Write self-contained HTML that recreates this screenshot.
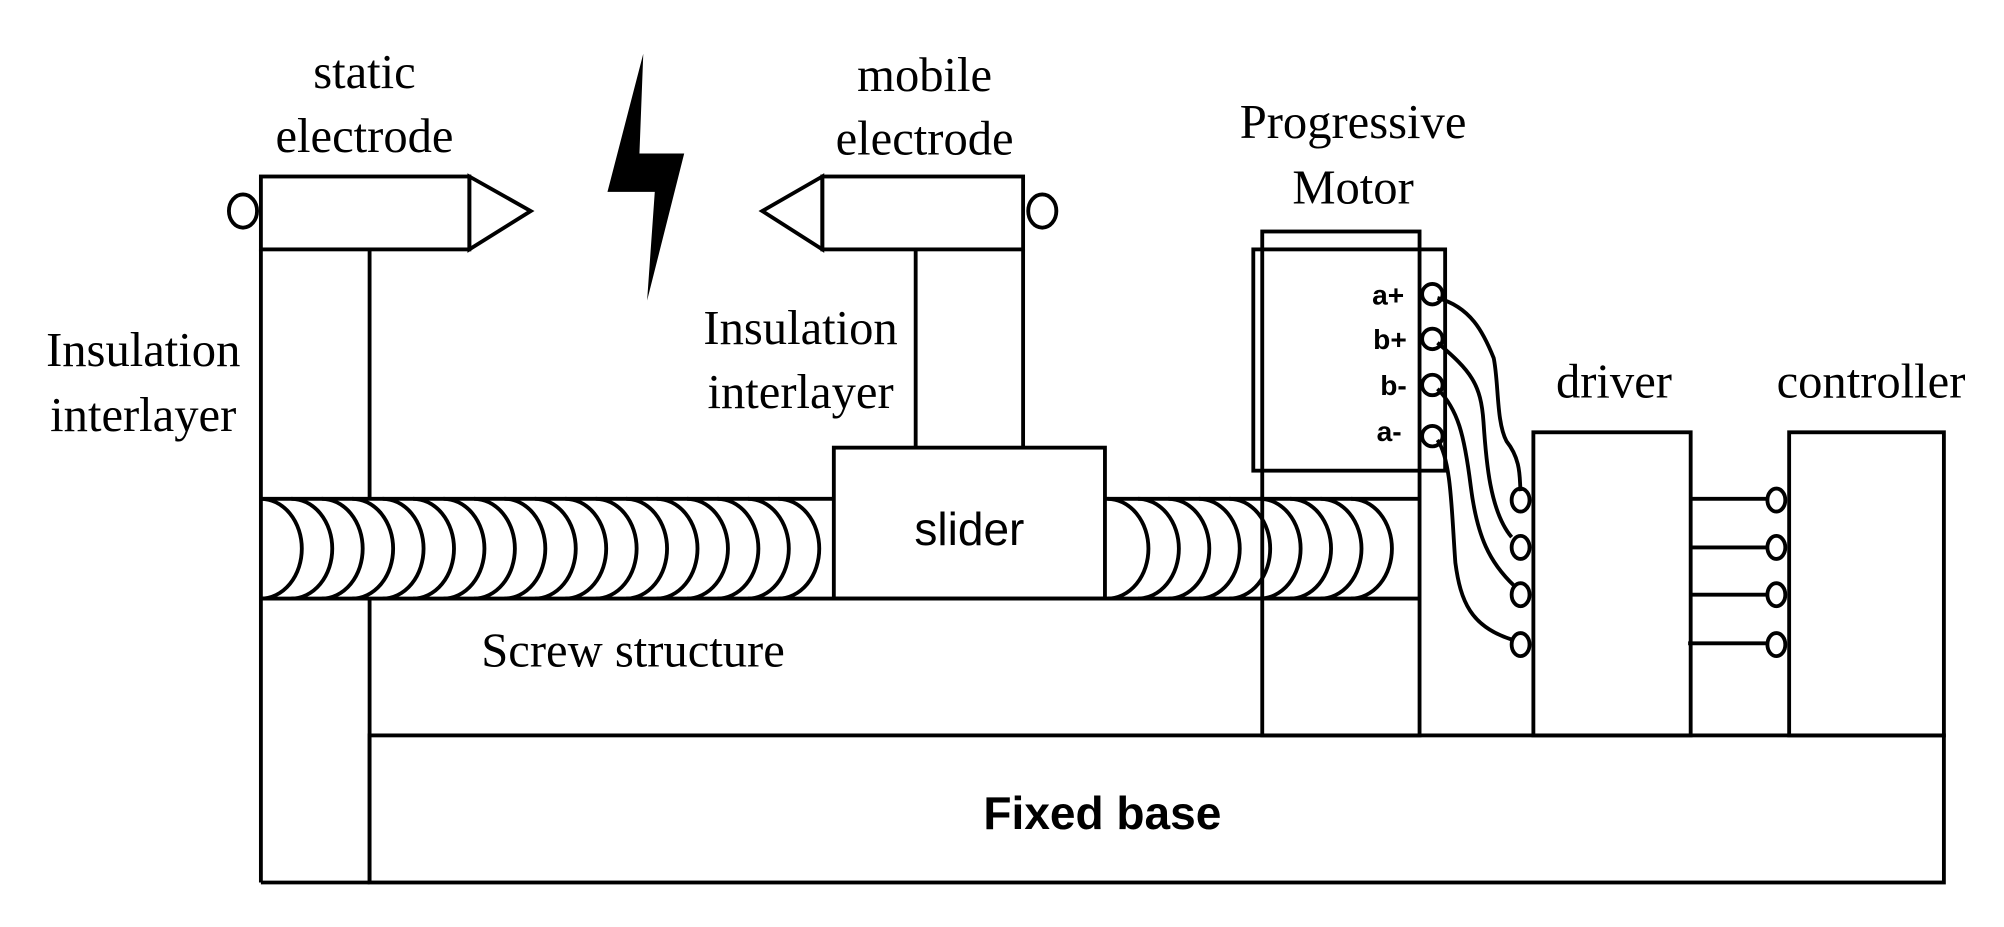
<!DOCTYPE html>
<html><head><style>html,body{margin:0;padding:0;background:#fff}svg{display:block}</style></head>
<body>
<svg width="2004" height="927" viewBox="0 0 1567 724.8" preserveAspectRatio="none" xmlns="http://www.w3.org/2000/svg">
<defs>
<clipPath id="cl"><rect x="204" y="388" width="448" height="82"/></clipPath>
<clipPath id="cr"><rect x="864" y="388" width="246" height="82"/></clipPath>
</defs>
<g fill="none" stroke="#000" stroke-width="3">
<rect x="204" y="138" width="163" height="57"/>
<polygon points="367,138 415,165 367,195"/>
<ellipse cx="190" cy="165" rx="11" ry="13"/>
<rect x="643" y="138" width="157" height="57"/>
<polygon points="643,138 596,165 643,195"/>
<ellipse cx="815" cy="165" rx="11" ry="13"/>
<line x1="204" y1="195" x2="204" y2="690"/>
<line x1="289" y1="195" x2="289" y2="390"/>
<line x1="289" y1="468" x2="289" y2="690"/>
<line x1="716" y1="195" x2="716" y2="350"/>
<line x1="800" y1="195" x2="800" y2="350"/>
<rect x="652" y="350" width="212" height="118"/>
<line x1="204" y1="390" x2="652" y2="390"/>
<line x1="864" y1="390" x2="1110" y2="390"/>
<line x1="204" y1="468" x2="1110" y2="468"/>
<g clip-path="url(#cl)">
<path d="M204,390 A32,39 0 0 1 204,468 M227.8,390 A32,39 0 0 1 227.8,468 M251.6,390 A32,39 0 0 1 251.6,468 M275.4,390 A32,39 0 0 1 275.4,468 M299.2,390 A32,39 0 0 1 299.2,468 M323,390 A32,39 0 0 1 323,468 M346.8,390 A32,39 0 0 1 346.8,468 M370.6,390 A32,39 0 0 1 370.6,468 M394.4,390 A32,39 0 0 1 394.4,468 M418.2,390 A32,39 0 0 1 418.2,468 M442,390 A32,39 0 0 1 442,468 M465.8,390 A32,39 0 0 1 465.8,468 M489.6,390 A32,39 0 0 1 489.6,468 M513.4,390 A32,39 0 0 1 513.4,468 M537.2,390 A32,39 0 0 1 537.2,468 M561,390 A32,39 0 0 1 561,468 M584.8,390 A32,39 0 0 1 584.8,468 M608.6,390 A32,39 0 0 1 608.6,468"/>
</g>
<g clip-path="url(#cr)">
<path d="M866,390 A32,39 0 0 1 866,468 M889.8,390 A32,39 0 0 1 889.8,468 M913.6,390 A32,39 0 0 1 913.6,468 M937.4,390 A32,39 0 0 1 937.4,468 M961.2,390 A32,39 0 0 1 961.2,468 M985,390 A32,39 0 0 1 985,468 M1008.8,390 A32,39 0 0 1 1008.8,468 M1032.6,390 A32,39 0 0 1 1032.6,468 M1056.4,390 A32,39 0 0 1 1056.4,468"/>
</g>
<rect x="987" y="181" width="123" height="394"/>
<rect x="980" y="195" width="150" height="173"/>
<circle cx="1120" cy="230" r="8"/>
<circle cx="1120" cy="265" r="8"/>
<circle cx="1120" cy="301" r="8"/>
<circle cx="1120" cy="341" r="8"/>
<path d="M1124,233 C1150,240 1160,260 1168,280 C1172,300 1170,330 1178,345 C1190,360 1188,375 1189,384"/>
<path d="M1124,268 C1150,290 1158,300 1160,330 C1162,360 1165,400 1182,420"/>
<path d="M1124,304 C1140,320 1145,340 1150,380 C1155,420 1165,440 1184,458"/>
<path d="M1124,344 C1135,360 1135,400 1138,440 C1142,470 1150,490 1182,500"/>
<ellipse cx="1189" cy="391" rx="7" ry="9"/>
<ellipse cx="1189" cy="428" rx="7" ry="9"/>
<ellipse cx="1189" cy="465" rx="7" ry="9"/>
<ellipse cx="1189" cy="504" rx="7" ry="9"/>
<rect x="1199" y="338" width="123" height="237"/>
<rect x="1399" y="338" width="121" height="237"/>
<line x1="1322" y1="390" x2="1382" y2="390"/>
<line x1="1322" y1="428" x2="1382" y2="428"/>
<line x1="1322" y1="465" x2="1382" y2="465"/>
<line x1="1320" y1="503" x2="1382" y2="503"/>
<ellipse cx="1389" cy="391" rx="7" ry="9"/>
<ellipse cx="1389" cy="428" rx="7" ry="9"/>
<ellipse cx="1389" cy="465" rx="7" ry="9"/>
<ellipse cx="1389" cy="504" rx="7" ry="9"/>
<rect x="289" y="575" width="1231" height="115"/>
<line x1="204" y1="690" x2="289" y2="690"/>
</g>
<polygon points="503,42 475,150 512,150 506,235 535,120 500,120" fill="#000"/>
<g font-family="Liberation Serif, serif" font-size="38" text-anchor="middle" fill="#000">
<text x="285" y="69">static</text>
<text x="285" y="119">electrode</text>
<text x="723" y="71">mobile</text>
<text x="723" y="121">electrode</text>
<text x="1058" y="108">Progressive</text>
<text x="1058" y="159">Motor</text>
<text x="112" y="286">Insulation</text>
<text x="112" y="337">interlayer</text>
<text x="626" y="269">Insulation</text>
<text x="626" y="319">interlayer</text>
<text x="1262" y="311">driver</text>
<text x="1463" y="311">controller</text>
<text x="495" y="521">Screw structure</text>
</g>
<g font-family="Liberation Sans, sans-serif" fill="#000">
<text x="758" y="426" font-size="36" text-anchor="middle">slider</text>
<text x="862" y="648" font-size="36" font-weight="bold" text-anchor="middle">Fixed base</text>
<g font-size="22" font-weight="bold" text-anchor="end">
<text x="1098" y="238">a+</text>
<text x="1100" y="273">b+</text>
<text x="1100" y="309">b-</text>
<text x="1096" y="345">a-</text>
</g>
</g>
</svg>
</body></html>
